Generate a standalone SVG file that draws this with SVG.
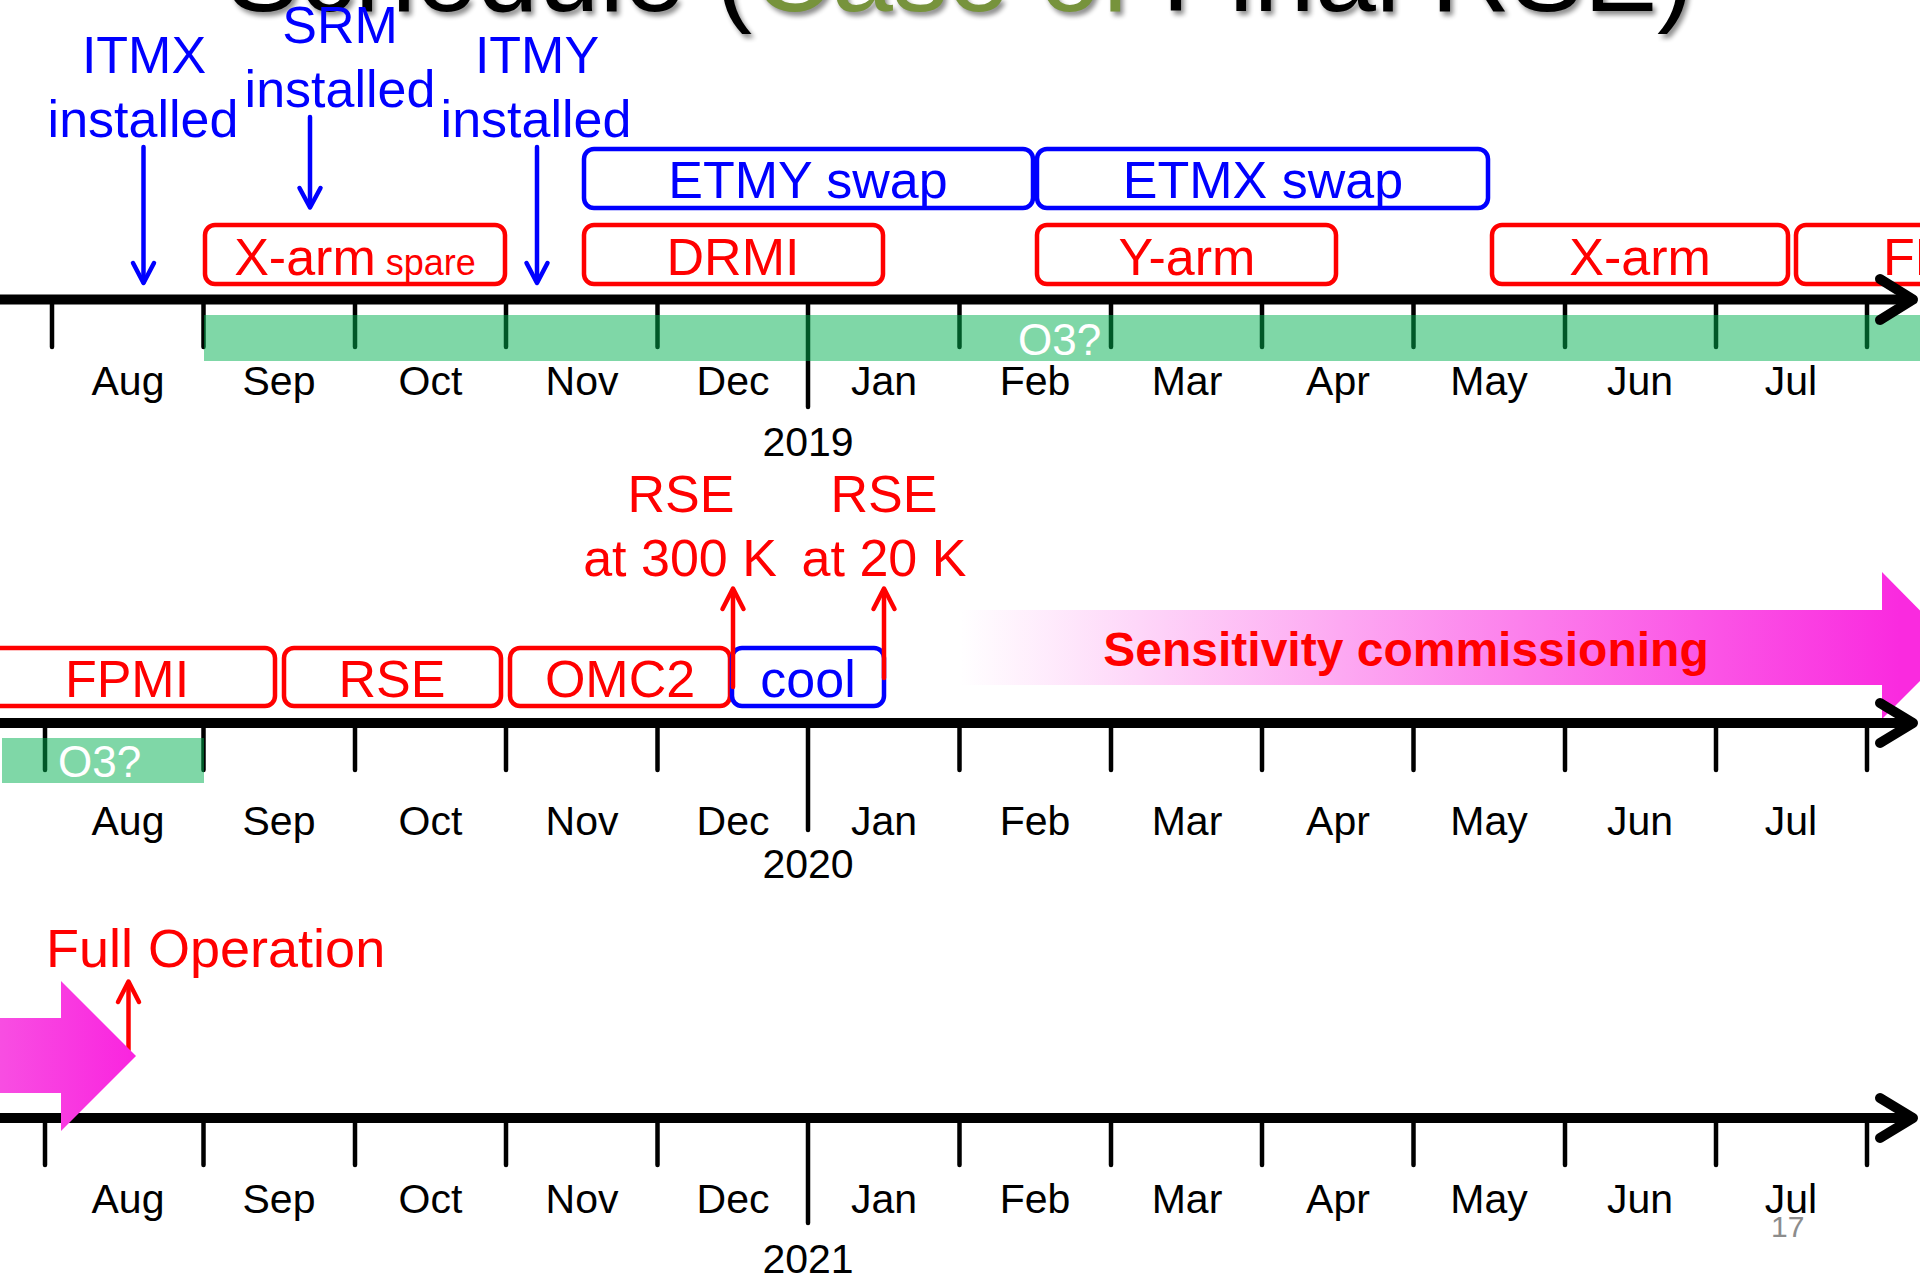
<svg xmlns="http://www.w3.org/2000/svg" width="1920" height="1276" viewBox="0 0 1920 1276">
<defs>
<style>
text{font-family:"Liberation Sans",Arial,sans-serif;}
.title{font-size:110px;text-anchor:middle;}
.blue{fill:#0000FF;font-size:52px;text-anchor:middle;}
.red{fill:#FF0000;font-size:52px;text-anchor:middle;}
.mon{fill:#000;font-size:41px;text-anchor:middle;}
.o3{fill:#FFFFFF;font-size:44px;}
.rbox{fill:none;stroke:#FF0000;stroke-width:4.5;}
.bbox{fill:none;stroke:#0000FF;stroke-width:4.5;}
.tick{stroke:#000;stroke-width:4.5;stroke-linecap:round;}
.axis{stroke:#000;stroke-width:10;fill:none;stroke-linecap:round;stroke-linejoin:round;}
.band{fill:#00B050;opacity:0.5;}
.barr{stroke:#0000FF;stroke-width:4.5;fill:none;stroke-linecap:round;stroke-linejoin:round;}
.rarr{stroke:#FF0000;stroke-width:4.5;fill:none;stroke-linecap:round;stroke-linejoin:round;}
</style>
<filter id="sh" x="-5%" y="-50%" width="110%" height="200%"><feGaussianBlur stdDeviation="2.5"/></filter>
<linearGradient id="g2" gradientUnits="userSpaceOnUse" x1="960" y1="0" x2="1900" y2="0">
<stop offset="0" stop-color="#FFFFFF"/>
<stop offset="1" stop-color="#FA2ADF"/>
</linearGradient>
<linearGradient id="g3" gradientUnits="userSpaceOnUse" x1="0" y1="0" x2="136" y2="0">
<stop offset="0" stop-color="#F84EE2"/>
<stop offset="1" stop-color="#FA24DF"/>
</linearGradient>
</defs>
<rect x="0" y="0" width="1920" height="1276" fill="#FFFFFF"/>

<g id="title">
<text class="title" x="963" y="15" fill="#000" opacity="0.45" filter="url(#sh)">Schedule (Case of Final RSE)</text>
<text class="title" x="960" y="11" fill="#000">Schedule (<tspan fill="#77933C">Case of</tspan> Final RSE)</text>
</g>

<g id="sens-arrow">
<path d="M960,610 L1882,610 L1882,572 L1955,646 L1882,719 L1882,685 L960,685 Z" fill="url(#g2)"/>
<text x="1406" y="666" fill="#FF0000" font-size="48" font-weight="bold" text-anchor="middle">Sensitivity commissioning</text>
</g>

<g id="row1-ticks">
<line class="tick" x1="52" y1="299" x2="52" y2="347"/>
<line class="tick" x1="203.5" y1="299" x2="203.5" y2="347"/>
<line class="tick" x1="355" y1="299" x2="355" y2="347"/>
<line class="tick" x1="506" y1="299" x2="506" y2="347"/>
<line class="tick" x1="657.5" y1="299" x2="657.5" y2="347"/>
<line class="tick" x1="808" y1="299" x2="808" y2="407"/>
<line class="tick" x1="959.5" y1="299" x2="959.5" y2="347"/>
<line class="tick" x1="1111" y1="299" x2="1111" y2="347"/>
<line class="tick" x1="1262" y1="299" x2="1262" y2="347"/>
<line class="tick" x1="1413.5" y1="299" x2="1413.5" y2="347"/>
<line class="tick" x1="1565" y1="299" x2="1565" y2="347"/>
<line class="tick" x1="1716" y1="299" x2="1716" y2="347"/>
<line class="tick" x1="1867" y1="299" x2="1867" y2="347"/>
</g>
<g id="row2-ticks">
<line class="tick" x1="45" y1="723" x2="45" y2="770"/>
<line class="tick" x1="203.5" y1="723" x2="203.5" y2="770"/>
<line class="tick" x1="355" y1="723" x2="355" y2="770"/>
<line class="tick" x1="506" y1="723" x2="506" y2="770"/>
<line class="tick" x1="657.5" y1="723" x2="657.5" y2="770"/>
<line class="tick" x1="808" y1="723" x2="808" y2="830"/>
<line class="tick" x1="959.5" y1="723" x2="959.5" y2="770"/>
<line class="tick" x1="1111" y1="723" x2="1111" y2="770"/>
<line class="tick" x1="1262" y1="723" x2="1262" y2="770"/>
<line class="tick" x1="1413.5" y1="723" x2="1413.5" y2="770"/>
<line class="tick" x1="1565" y1="723" x2="1565" y2="770"/>
<line class="tick" x1="1716" y1="723" x2="1716" y2="770"/>
<line class="tick" x1="1867" y1="723" x2="1867" y2="770"/>
</g>
<g id="row3-ticks">
<line class="tick" x1="45" y1="1118" x2="45" y2="1165"/>
<line class="tick" x1="203.5" y1="1118" x2="203.5" y2="1165"/>
<line class="tick" x1="355" y1="1118" x2="355" y2="1165"/>
<line class="tick" x1="506" y1="1118" x2="506" y2="1165"/>
<line class="tick" x1="657.5" y1="1118" x2="657.5" y2="1165"/>
<line class="tick" x1="808" y1="1118" x2="808" y2="1223"/>
<line class="tick" x1="959.5" y1="1118" x2="959.5" y2="1165"/>
<line class="tick" x1="1111" y1="1118" x2="1111" y2="1165"/>
<line class="tick" x1="1262" y1="1118" x2="1262" y2="1165"/>
<line class="tick" x1="1413.5" y1="1118" x2="1413.5" y2="1165"/>
<line class="tick" x1="1565" y1="1118" x2="1565" y2="1165"/>
<line class="tick" x1="1716" y1="1118" x2="1716" y2="1165"/>
<line class="tick" x1="1867" y1="1118" x2="1867" y2="1165"/>
</g>

<g id="o3-row1">
<rect class="band" x="204" y="315" width="1716" height="46"/>
<text class="o3" x="1018" y="355">O3?</text>
</g>
<g id="o3-row2">
<rect class="band" x="2" y="738" width="202" height="45"/>
<text class="o3" x="58" y="777">O3?</text>
</g>

<g id="months-row1">
<text class="mon" x="128" y="395">Aug</text>
<text class="mon" x="279" y="395">Sep</text>
<text class="mon" x="430.5" y="395">Oct</text>
<text class="mon" x="582" y="395">Nov</text>
<text class="mon" x="733" y="395">Dec</text>
<text class="mon" x="884" y="395">Jan</text>
<text class="mon" x="1035" y="395">Feb</text>
<text class="mon" x="1187" y="395">Mar</text>
<text class="mon" x="1338" y="395">Apr</text>
<text class="mon" x="1489" y="395">May</text>
<text class="mon" x="1640" y="395">Jun</text>
<text class="mon" x="1791" y="395">Jul</text>
<text class="mon" x="808" y="456">2019</text>
</g>
<g id="months-row2">
<text class="mon" x="128" y="835">Aug</text>
<text class="mon" x="279" y="835">Sep</text>
<text class="mon" x="430.5" y="835">Oct</text>
<text class="mon" x="582" y="835">Nov</text>
<text class="mon" x="733" y="835">Dec</text>
<text class="mon" x="884" y="835">Jan</text>
<text class="mon" x="1035" y="835">Feb</text>
<text class="mon" x="1187" y="835">Mar</text>
<text class="mon" x="1338" y="835">Apr</text>
<text class="mon" x="1489" y="835">May</text>
<text class="mon" x="1640" y="835">Jun</text>
<text class="mon" x="1791" y="835">Jul</text>
<text class="mon" x="808" y="878">2020</text>
</g>
<g id="months-row3">
<text class="mon" x="128" y="1213">Aug</text>
<text class="mon" x="279" y="1213">Sep</text>
<text class="mon" x="430.5" y="1213">Oct</text>
<text class="mon" x="582" y="1213">Nov</text>
<text class="mon" x="733" y="1213">Dec</text>
<text class="mon" x="884" y="1213">Jan</text>
<text class="mon" x="1035" y="1213">Feb</text>
<text class="mon" x="1187" y="1213">Mar</text>
<text class="mon" x="1338" y="1213">Apr</text>
<text class="mon" x="1489" y="1213">May</text>
<text class="mon" x="1640" y="1213">Jun</text>
<text class="mon" x="1791" y="1213">Jul</text>
<text class="mon" x="808" y="1273">2021</text>
</g>

<g id="etmy-swap"><rect class="bbox" x="584" y="149" width="449" height="59" rx="10"/><text class="blue" x="808" y="198">ETMY swap</text></g>
<g id="etmx-swap"><rect class="bbox" x="1037" y="149" width="451" height="59" rx="10"/><text class="blue" x="1263" y="198">ETMX swap</text></g>
<g id="xarm-spare"><rect class="rbox" x="205" y="225" width="300" height="59" rx="10"/><text class="red" x="355" y="275">X-arm<tspan font-size="36"> spare</tspan></text></g>
<g id="drmi"><rect class="rbox" x="584" y="225" width="299" height="59" rx="10"/><text class="red" x="733" y="275">DRMI</text></g>
<g id="yarm"><rect class="rbox" x="1037" y="225" width="299" height="59" rx="10"/><text class="red" x="1187" y="275">Y-arm</text></g>
<g id="xarm"><rect class="rbox" x="1492" y="225" width="296" height="59" rx="10"/><text class="red" x="1640" y="275">X-arm</text></g>
<g id="fpmi-row1"><rect class="rbox" x="1796" y="225" width="300" height="59" rx="10"/><text class="red" x="1945" y="275">FPMI</text></g>

<g id="fpmi-row2"><rect class="rbox" x="-26" y="648" width="301" height="58" rx="10"/><text class="red" x="127" y="697">FPMI</text></g>
<g id="rse"><rect class="rbox" x="284" y="648" width="217" height="58" rx="10"/><text class="red" x="392" y="697">RSE</text></g>
<g id="omc2"><rect class="rbox" x="510" y="648" width="220" height="58" rx="10"/><text class="red" x="620" y="697">OMC2</text></g>
<g id="cool"><rect class="bbox" x="732" y="648" width="152" height="58" rx="10"/><text class="blue" x="808" y="697">cool</text></g>

<g id="labels">
<text class="blue" x="144" y="73">ITMX</text>
<text class="blue" x="143" y="137">installed</text>
<text class="blue" x="340" y="43">SRM</text>
<text class="blue" x="340" y="107">installed</text>
<text class="blue" x="537" y="73">ITMY</text>
<text class="blue" x="536" y="137">installed</text>
<text class="red" x="681" y="512">RSE</text>
<text class="red" x="680" y="576">at 300 K</text>
<text class="red" x="884" y="512">RSE</text>
<text class="red" x="884" y="576">at 20 K</text>
<text x="46" y="967" fill="#FF0000" font-size="54">Full Operation</text>
<text x="1771" y="1237" fill="#8C8C8C" font-size="30">17</text>
</g>

<g id="axes">
<line class="axis" x1="0" y1="299.5" x2="1912" y2="299.5"/>
<polyline class="axis" points="1880,279 1913,299.5 1880,320"/>
<line class="axis" x1="0" y1="723" x2="1912" y2="723"/>
<polyline class="axis" points="1880,703 1913,723 1880,743"/>
<line class="axis" x1="0" y1="1118" x2="1912" y2="1118"/>
<polyline class="axis" points="1880,1098 1913,1118 1880,1138"/>
</g>

<g id="connectors">
<line class="barr" x1="143.5" y1="147" x2="143.5" y2="282"/>
<polyline class="barr" points="133,263 143.5,283 154,263"/>
<line class="barr" x1="310" y1="117" x2="310" y2="206"/>
<polyline class="barr" points="299.5,188 310,207.5 320.5,188"/>
<line class="barr" x1="537" y1="147" x2="537" y2="282"/>
<polyline class="barr" points="526.5,263 537,283 547.5,263"/>
<line class="rarr" x1="733" y1="687" x2="733" y2="590"/>
<polyline class="rarr" points="722.5,609 733,588.5 743.5,609"/>
<line class="rarr" x1="884" y1="678" x2="884" y2="590"/>
<polyline class="rarr" points="873.5,609 884,588.5 894.5,609"/>
<line class="rarr" x1="128.5" y1="1050" x2="128.5" y2="983"/>
<polyline class="rarr" points="118,1002 128.5,981.5 139,1002"/>
</g>

<g id="full-op-arrow">
<path d="M0,1018 L61,1018 L61,981 L136,1056 L61,1131 L61,1093 L0,1093 Z" fill="url(#g3)"/>
</g>
</svg>
